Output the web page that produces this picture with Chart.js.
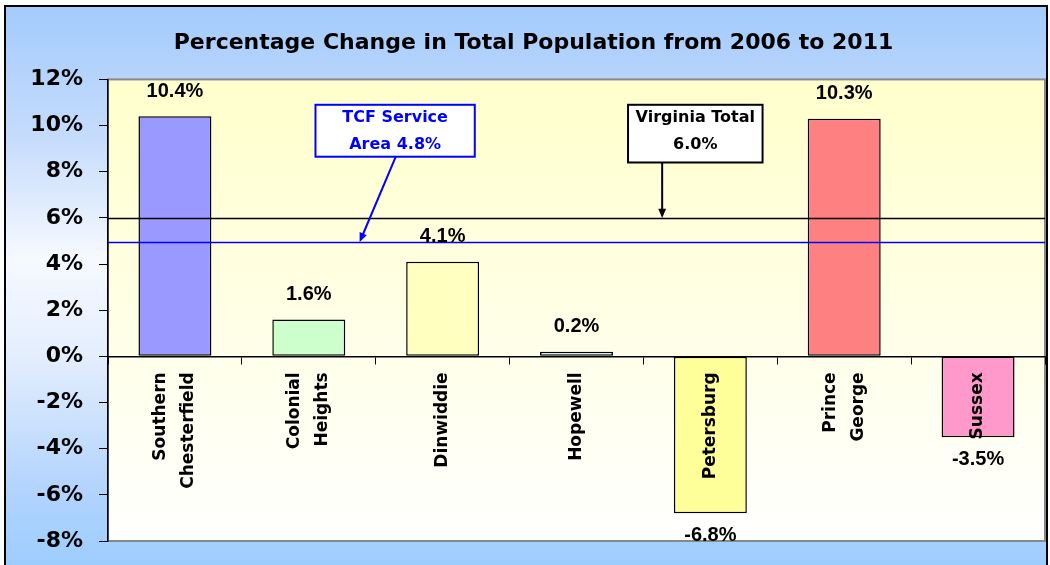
<!DOCTYPE html>
<html>
<head>
<meta charset="utf-8">
<script src="https://cdn.jsdelivr.net/npm/chart.js@4.4.1/dist/chart.umd.min.js"></script>
<style>
  html, body { margin: 0; padding: 0; overflow: hidden; width: 1050px; height: 565px; }
  #frame {
    position: absolute; left: 4px; top: 5px; width: 1040px; height: 600px;
    border: 2px solid #000;
    background: linear-gradient(to bottom, #a3cbfc 0%, #c6dcfc 22%, #f6f9ff 42%, #e4eefd 58%, #b3d4fd 80%, #99ccff 95%);
  }
  #wrap { position: absolute; left: 0; top: 0; width: 1050px; height: 565px; }
</style>
</head>
<body>
<div id="frame"></div>
<div id="wrap"><canvas id="chart"></canvas></div>
<script>
// empty strings keep two-line names centred on their bar (rotated labels)
const categories = [["Southern", "", "Chesterfield"], ["Colonial", "", "Heights"], ["", "Dinwiddie"], ["", "Hopewell"], ["", "Petersburg"], ["Prince", "", "George"], ["", "Sussex"]];
const changePct = [10.4, 1.6, 4.1, 0.2, -6.8, 10.3, -3.5];
const barColors = ["#9999ff", "#ccffcc", "#ffffc0", "#ccffff", "#ffff99", "#ff8080", "#ff99cc"];
const yTicks = [-8, -6, -4, -2, 0, 2, 4, 6, 8, 10, 12];

// reference lines (value where the line is drawn) and their callout text
const virginiaTotal = 6.0;
const tcfServiceArea = 4.95;
const virginiaText = ["Virginia Total", "6.0%"];
const tcfText = ["TCF Service", "Area 4.8%"];

// callouts placed in data units (x = category index, y = percent)
const callouts = [
  { lines: tcfText, color: "#0000ff", x0: 1.05, x1: 2.24, y0: 10.9, y1: 8.65, from: [1.65, 8.65], to: [1.38, tcfServiceArea] },
  { lines: virginiaText, color: "#000000", x0: 3.385, x1: 4.39, y0: 10.9, y1: 8.4, from: [3.64, 8.4], to: [3.64, virginiaTotal] }
];

const plotBackground = {
  id: "plotBackground",
  beforeDraw(chart) {
    const { ctx, chartArea: a } = chart;
    const g = ctx.createLinearGradient(0, a.top, 0, a.bottom);
    g.addColorStop(0, "#ffffcc");
    g.addColorStop(1, "#ffffff");
    ctx.save();
    ctx.fillStyle = g;
    ctx.fillRect(a.left, a.top, a.right - a.left, a.bottom - a.top);
    ctx.strokeStyle = "#888888";
    ctx.lineWidth = 2;
    ctx.strokeRect(a.left, a.top, a.right - a.left, a.bottom - a.top);
    ctx.restore();
  }
};

function arrow(ctx, x1, y1, x2, y2, color) {
  const ang = Math.atan2(y2 - y1, x2 - x1);
  const s = 10;
  ctx.strokeStyle = color;
  ctx.fillStyle = color;
  ctx.lineWidth = 2;
  ctx.beginPath();
  ctx.moveTo(x1, y1);
  ctx.lineTo(x2 - Math.cos(ang) * s * 0.8, y2 - Math.sin(ang) * s * 0.8);
  ctx.stroke();
  ctx.beginPath();
  ctx.moveTo(x2, y2);
  ctx.lineTo(x2 - s * Math.cos(ang - 0.4), y2 - s * Math.sin(ang - 0.4));
  ctx.lineTo(x2 - s * Math.cos(ang + 0.4), y2 - s * Math.sin(ang + 0.4));
  ctx.closePath();
  ctx.fill();
}

const overlays = {
  id: "overlays",
  afterDatasetsDraw(chart) {
    const { ctx, chartArea: a, scales: { x, y } } = chart;
    ctx.save();
    // horizontal reference lines
    [[virginiaTotal, "#000000"], [tcfServiceArea, "#0000ff"]].forEach(([v, c]) => {
      const py = Math.round(y.getPixelForValue(v)) + 0.5;
      ctx.strokeStyle = c;
      ctx.lineWidth = 1.5;
      ctx.beginPath();
      ctx.moveTo(a.left, py);
      ctx.lineTo(a.right, py);
      ctx.stroke();
    });

    // value labels
    ctx.font = "bold 20px 'Liberation Sans', Arial, sans-serif";
    ctx.fillStyle = "#000";
    ctx.textAlign = "center";
    ctx.textBaseline = "middle";
    chart.getDatasetMeta(0).data.forEach((bar, i) => {
      const v = changePct[i];
      const ty = v >= 0 ? bar.y - 25 : bar.y + 22;
      ctx.fillText(v.toFixed(1) + "%", bar.x, ty);
    });

    // callout boxes with arrows
    callouts.forEach(c => {
      const bx0 = x.getPixelForValue(c.x0), bx1 = x.getPixelForValue(c.x1);
      const by0 = y.getPixelForValue(c.y0), by1 = y.getPixelForValue(c.y1);
      arrow(ctx, x.getPixelForValue(c.from[0]), y.getPixelForValue(c.from[1]),
        x.getPixelForValue(c.to[0]), y.getPixelForValue(c.to[1]), c.color);
      ctx.fillStyle = "#ffffff";
      ctx.fillRect(bx0, by0, bx1 - bx0, by1 - by0);
      ctx.strokeStyle = c.color;
      ctx.lineWidth = 2;
      ctx.strokeRect(bx0, by0, bx1 - bx0, by1 - by0);
      ctx.fillStyle = c.color;
      ctx.font = "bold 16px 'DejaVu Sans', sans-serif";
      const cx = (bx0 + bx1) / 2;
      ctx.fillText(c.lines[0], cx, by0 + 13);
      ctx.fillText(c.lines[1], cx, by0 + 40);
    });
    ctx.restore();
  }
};

new Chart(document.getElementById("chart"), {
  type: "bar",
  data: {
    labels: categories,
    datasets: [{
      data: changePct,
      backgroundColor: barColors,
      borderColor: "#000",
      borderWidth: 1.5,
      borderSkipped: false,
      barPercentage: 0.545,
      categoryPercentage: 1
    }]
  },
  options: {
    responsive: true,
    maintainAspectRatio: false,
    animation: false,
    layout: { padding: { left: 22, right: 5, top: 0, bottom: 24 } },
    plugins: {
      legend: { display: false },
      tooltip: { enabled: false },
      title: {
        display: true,
        text: "Percentage Change in Total Population from 2006 to 2011",
        color: "#000",
        font: { family: "'DejaVu Sans', sans-serif", size: 22, weight: "bold", lineHeight: 1.2 },
        padding: { top: 30, bottom: 23 }
      }
    },
    scales: {
      x: {
        position: { y: 0 },
        grid: { offset: true, drawOnChartArea: false, tickLength: 7, color: "#000", lineWidth: 1 },
        border: { color: "#000", width: 1.5 },
        ticks: {
          z: 1,
          autoSkip: false,
          minRotation: 90,
          maxRotation: 90,
          padding: 9,
          labelOffset: -14,
          color: "#000",
          font: { family: "'DejaVu Sans', sans-serif", size: 17, weight: "bold", lineHeight: 0.82 }
        }
      },
      y: {
        min: -8,
        max: 12,
        afterBuildTicks: (scale) => { scale.ticks = yTicks.map(v => ({ value: v })); },
        afterFit: (scale) => { scale.width = 86; scale.paddingTop = 0; scale.paddingBottom = 0; },
        grid: { drawOnChartArea: false, tickLength: 9, color: "#000" },
        border: { color: "#000", width: 1.5 },
        ticks: {
          padding: 16,
          color: "#000",
          font: { family: "'DejaVu Sans', sans-serif", size: 22, weight: "bold" },
          callback: (v) => v + "%"
        }
      }
    }
  },
  plugins: [plotBackground, overlays]
});
</script>
</body>
</html>
